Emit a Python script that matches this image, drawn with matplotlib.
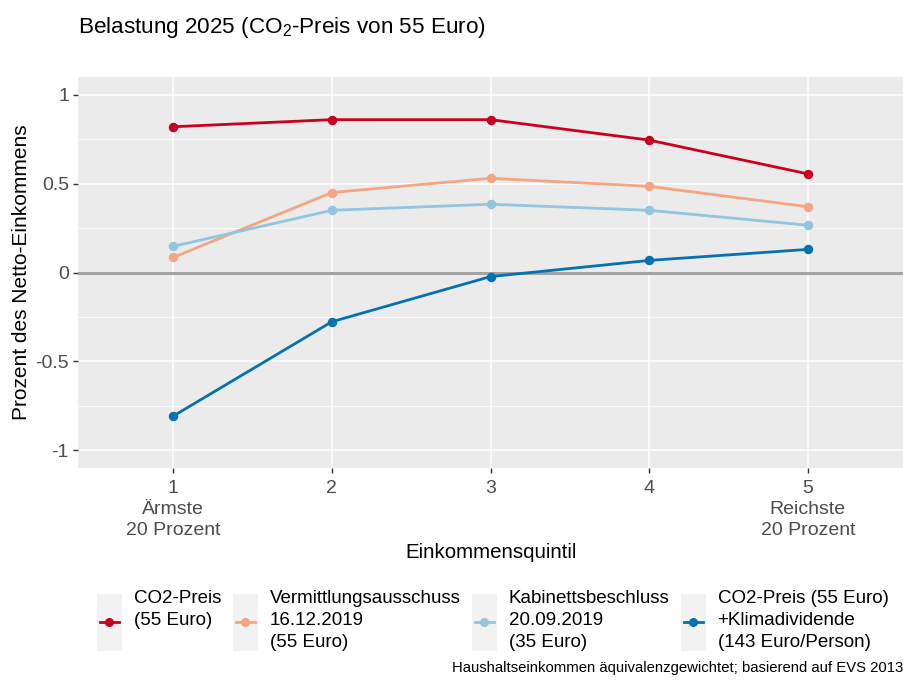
import matplotlib
matplotlib.use("Agg")
import matplotlib.pyplot as plt
from matplotlib.patches import Rectangle
from matplotlib.lines import Line2D
from matplotlib.legend_handler import HandlerBase

plt.rcParams['font.family'] = ['Liberation Sans', 'DejaVu Sans']
plt.rcParams['mathtext.fontset'] = 'custom'
plt.rcParams['mathtext.rm'] = 'Liberation Sans'
plt.rcParams['mathtext.it'] = 'Liberation Sans:italic'

# data
quintile = [1, 2, 3, 4, 5]
tick_labels = ["1\nÄrmste\n20 Prozent", "2", "3", "4", "5\nReichste\n20 Prozent"]
co2_preis = [0.82, 0.86, 0.86, 0.745, 0.555]
vermittlung = [0.085, 0.45, 0.53, 0.485, 0.37]
kabinett = [0.147, 0.35, 0.384, 0.35, 0.266]
klimadividende = [-0.808, -0.277, -0.023, 0.068, 0.13]

series_names = ["CO2-Preis\n(55 Euro)\n ",
                "Vermittlungsausschuss\n16.12.2019\n(55 Euro)",
                "Kabinettsbeschluss\n20.09.2019\n(35 Euro)",
                "CO2-Preis (55 Euro)\n+Klimadividende\n(143 Euro/Person)"]
colors = ["#CA0020", "#F4A582", "#92C5DE", "#0571B0"]


class KeyHandler(HandlerBase):
    # ggplot-like legend key: grey box with a line and a point
    def create_artists(self, legend, orig_handle, xdescent, ydescent,
                       width, height, fontsize, trans):
        bg = Rectangle((-xdescent, -ydescent), width, height,
                       facecolor="#F2F2F2", edgecolor="none", transform=trans)
        yc = -ydescent + height / 2
        ln = Line2D([-xdescent + width * 0.12, -xdescent + width * 0.88], [yc, yc],
                    color=orig_handle.get_color(), lw=2, transform=trans)
        mk = Line2D([-xdescent + width / 2], [yc], marker="o", ms=5.5,
                    color=orig_handle.get_color(), transform=trans)
        return [bg, ln, mk]


def main():
    fig = plt.figure(figsize=(9.04, 6.8), dpi=100)
    W, H = 904, 680
    ax = fig.add_axes([78 / W, 1 - 468 / H, (903 - 78) / W, (468 - 77) / H])
    ax.set_facecolor("#EBEBEB")
    for s in ax.spines.values():
        s.set_visible(False)

    ax.set_xlim(0.4, 5.6)
    ax.set_ylim(-1.1, 1.1)
    ax.set_yticks([-1, -0.5, 0, 0.5, 1])
    ax.set_yticklabels(["-1", "-0.5", "0", "0.5", "1"])
    ax.set_yticks([-0.75, -0.25, 0.25, 0.75], minor=True)
    ax.set_xticks(quintile)
    ax.set_xticklabels(tick_labels, linespacing=1.32)
    ax.grid(True, which="major", color="white", lw=1.1)
    ax.grid(True, which="minor", axis="y", color="white", lw=0.55)
    ax.set_axisbelow(True)
    ax.tick_params(which="major", length=3.5, width=1, color="#333333",
                   labelcolor="#4D4D4D", labelsize=14, pad=3)
    ax.tick_params(axis="x", pad=5)
    ax.tick_params(which="minor", length=0)

    ax.axhline(0, color="#A3A3A3", lw=2.2, zorder=1.5)

    handles = []
    for vals, c in zip([co2_preis, vermittlung, kabinett, klimadividende], colors):
        h, = ax.plot(quintile, vals, color=c, lw=2, marker="o", ms=5.8, zorder=3)
        handles.append(h)

    fig.text(78 / W, 1 - 27 / H, r"Belastung 2025 (CO$_\mathrm{2}$-Preis von 55 Euro)",
             fontsize=16.2, ha="left", va="center", color="black")
    fig.text(22 / W, 1 - 272 / H, "Prozent des Netto-Einkommens", rotation=90,
             fontsize=15, ha="center", va="center")
    fig.text(491 / W, 1 - 552 / H, "Einkommensquintil", fontsize=14.8,
             ha="center", va="center")

    leg = fig.legend(handles, series_names, handler_map={Line2D: KeyHandler()},
                     loc="upper left", bbox_to_anchor=(97 / W, 1 - 590 / H),
                     ncol=4, frameon=False, fontsize=13.5, borderpad=0,
                     borderaxespad=0, handlelength=1.33, handleheight=4.3,
                     handletextpad=0.64, columnspacing=0.6)
    for t in leg.get_texts():
        t.set_linespacing(1.38)

    fig.text(903 / W, 1 - 668 / H,
             "Haushaltseinkommen äquivalenzgewichtet; basierend auf EVS 2013",
             fontsize=10.7, ha="right", va="center")

    fig.savefig("out.png", dpi=100)


if __name__ == '__main__':
    main()
